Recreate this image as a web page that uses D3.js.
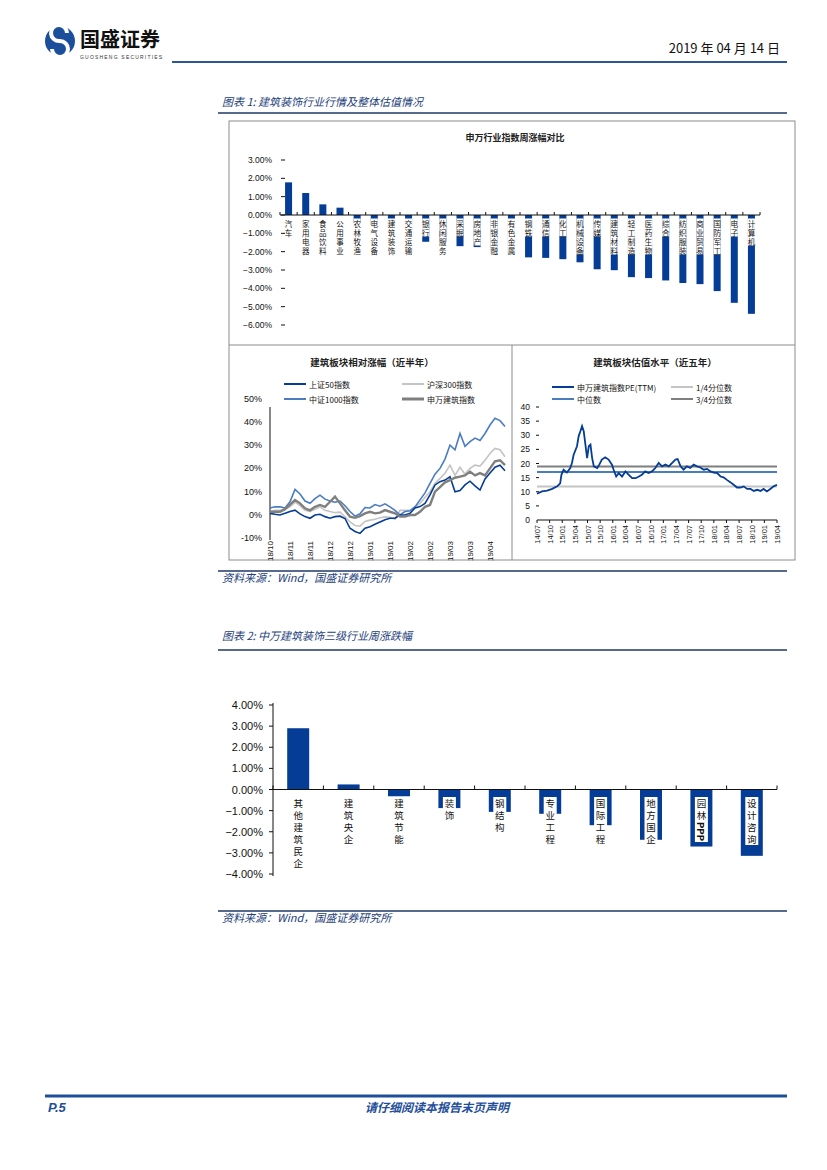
<!DOCTYPE html>
<html>
<head>
<meta charset="utf-8">
<script src="https://cdn.jsdelivr.net/npm/d3@7"></script>
<style>
  body { margin: 0; background: #fff; }
  svg { display: block; }
  text { font-family: "Noto Sans CJK SC", "Noto Sans", sans-serif; }
  .num { font-family: "Liberation Sans", Arial, sans-serif; }
</style>
</head>
<body>
<div id="root"></div>
<script>
// ---- chart 1 top: Shenwan level-1 weekly change (%)
const industries = ['汽车','家用电器','食品饮料','公用事业','农林牧渔','电气设备','建筑装饰','交通运输',
  '银行','休闲服务','采掘','房地产','非银金融','有色金属','钢铁','通信','化工','机械设备','传媒',
  '建筑材料','轻工制造','医药生物','综合','纺织服装','商业贸易','国防军工','电子','计算机']
const weeklyChange = [1.78, 1.20, 0.58, 0.40, -0.45, -0.55, -0.65, -0.80,
  -1.46, -1.45, -1.70, -1.75, -1.95, -2.15, -2.31, -2.34, -2.41, -2.58, -2.96,
  -3.01, -3.39, -3.44, -3.57, -3.71, -3.77, -4.15, -4.79, -5.39]
const weeklyTicks = [3, 2, 1, 0, -1, -2, -3, -4, -5, -6]

// ---- chart 1 bottom left: relative change over half a year (%)
const relTickIdx = [0, 4, 8, 12, 16, 20, 24, 28, 32, 36, 40, 44]
const relTickLabels = ['18/10','18/11','18/11','18/12','18/12','19/01','19/01','19/02','19/02','19/03','19/03','19/04']
const sz50 = [0.7,0.3,0.0,0.7,1.5,2.1,0.5,-0.7,-1.4,0.0,0.3,-0.7,-1.4,-0.7,-0.5,-1.5,-5.7,-7.1,-7.9,-5.7,
  -5.0,-4.0,-3.0,-2.0,-1.4,-1.4,0.0,0.0,0.7,3.0,3.6,5.0,8.6,12.9,14.3,15.0,16.4,10.0,10.5,12.9,
  14.5,12.5,10.7,15.5,18.0,20.5,21.4,19.0]
const hs300 = [1.4,2.0,2.0,2.5,3.5,5.5,4.0,2.0,1.5,2.5,3.5,2.0,1.5,1.0,1.2,-0.8,-3.0,-4.5,-4.8,-2.8,
  -2.2,-1.8,-1.2,-0.8,-1.0,-1.8,2.0,2.0,2.0,3.5,5.0,7.5,10.0,13.6,15.7,17.9,21.4,17.0,20.5,17.5,
  20.0,21.4,21.0,23.5,26.4,28.6,28.0,25.0]
const zz1000 = [3.0,3.5,3.5,3.0,5.7,11.0,9.0,6.0,5.0,7.0,8.5,6.8,6.0,5.5,6.0,4.0,1.5,-0.5,0.5,3.2,
  3.0,4.5,3.8,4.8,3.5,2.0,0.0,1.5,1.8,3.5,6.5,9.5,13.6,17.5,20.0,24.0,30.0,28.0,35.0,29.5,
  31.5,33.0,32.0,35.0,38.6,41.5,40.5,38.0]
const swBuild = [1.4,1.4,1.4,2.5,4.5,6.4,5.0,2.9,2.0,3.5,4.3,3.5,5.7,7.9,5.0,2.0,-0.7,-1.2,-0.5,0.7,
  1.4,0.7,1.0,2.1,1.4,0.7,-0.7,-0.7,0.0,0.0,1.4,3.5,4.3,10.0,12.0,14.0,15.0,16.0,16.5,17.0,
  18.6,17.0,18.0,17.0,20.0,23.0,23.5,21.4]
const relTicks = [50, 40, 30, 20, 10, 0, -10]

// ---- chart 1 bottom right: PE(TTM) over five years, months since 2014/07
const peMonth = [0,1.2,2.4,3.6,4.8,5.5,5.8,6.3,7.1,7.9,8.3,8.7,9.5,9.9,10.3,10.7,11.1,11.5,11.9,12.3,
  12.7,13.1,13.5,14.3,14.8,15.4,16.2,17.0,17.8,18.2,18.8,19.4,20.2,21.0,21.8,22.6,23.4,24.2,24.9,25.7,
  26.5,27.3,28.1,28.9,29.7,30.5,31.3,32.1,32.9,33.4,34.1,34.8,35.6,36.4,37.2,38.0,38.8,39.6,40.4,41.2,
  42.0,42.8,43.6,44.3,45.1,45.9,46.7,47.5,48.3,49.1,49.9,50.7,51.5,52.3,53.1,53.8,54.6,55.4,56.2,57.0]
const peValue = [9.3,10.1,10.4,11.0,11.9,13.0,16.0,17.8,16.8,18.4,20.2,23.1,26.1,29.7,31.4,33.2,31.4,26.7,21.9,26.1,
  26.7,21.9,19.0,18.4,19.6,21.4,22.2,21.4,19.6,17.8,15.4,16.6,15.4,17.2,16.0,14.8,14.8,15.4,16.0,17.2,
  16.6,17.2,18.4,20.2,19.0,19.6,19.0,20.2,21.4,21.6,19.0,17.8,19.0,18.4,19.6,19.0,18.6,17.8,18.1,17.2,
  16.8,16.6,15.4,15.1,14.2,13.4,12.5,11.5,11.5,11.9,11.0,11.0,10.3,10.7,10.3,11.0,10.1,11.0,11.9,12.5]
const peQ1 = 11.9, peMedian = 17.0, peQ3 = 18.9
const peTickLabels = ['14/07','14/10','15/01','15/04','15/07','15/10','16/01','16/04','16/07','16/10',
  '17/01','17/04','17/07','17/10','18/01','18/04','18/07','18/10','19/01','19/04']
const peTicks = [40, 35, 30, 25, 20, 15, 10, 5, 0]

// ---- chart 2: Shenwan building sub-industries weekly change (%)
const subIndustries = ['其他建筑民企','建筑央企','建筑节能','装饰','钢结构','专业工程','国际工程','地方国企','园林PPP','设计咨询']
const subChange = [2.90, 0.24, -0.32, -0.88, -1.06, -1.15, -1.69, -2.38, -2.70, -3.14]
const subTicks = [4, 3, 2, 1, 0, -1, -2, -3, -4]

const BLUE = '#053d96', MID = '#4a7cc2', LIGHT = '#c4c4c4', GREY = '#7f7f7f', NAVY = '#23407a'

const svg = d3.select('#root').append('svg').attr('width', 827).attr('height', 1170)

// vertical stacked label: one CJK character per line, latin runs turned sideways
function vlabel(g, txt, x, y0, step, size, bgW) {
  const tokens = txt.match(/[A-Za-z0-9]+|./g)
  const bg = g.append('rect').attr('fill', '#fff')
  let y = y0
  tokens.forEach(tk => {
    if (tk.length > 1) {
      const t = g.append('text').attr('font-size', size).attr('font-weight', 'bold')
        .attr('text-anchor', 'middle').attr('dominant-baseline', 'central').attr('fill', '#111').text(tk)
      const len = t.node().getComputedTextLength()
      const cy = y - step / 2 + len / 2 + 1
      t.attr('transform', `translate(${x},${cy}) rotate(90)`)
      y += len + 2
    } else {
      g.append('text').attr('x', x).attr('y', y).attr('text-anchor', 'middle')
        .attr('dominant-baseline', 'central').attr('font-size', size).attr('fill', '#111').text(tk)
      y += step
    }
  })
  if (bgW) bg.attr('x', x - bgW / 2).attr('y', y0 - step / 2).attr('width', bgW).attr('height', y - y0)
}

// ---------- page header
const logo = svg.append('g')
logo.append('circle').attr('cx', 60).attr('cy', 41).attr('r', 15).attr('fill', '#1b4f9c')
logo.append('path').attr('d', 'M67,33 A8,8 0 1 0 60,41 A8,8 0 1 1 52,49')
  .attr('fill', 'none').attr('stroke', '#fff').attr('stroke-width', 4)
svg.append('text').attr('x', 80).attr('y', 47).attr('font-size', 20).attr('font-weight', 'bold')
  .attr('fill', '#111').text('国盛证券')
svg.append('text').attr('x', 80).attr('y', 59).attr('font-size', 5).attr('letter-spacing', 1.2)
  .attr('fill', '#333').attr('class', 'num').text('GUOSHENG SECURITIES')
svg.append('text').attr('x', 780).attr('y', 53).attr('text-anchor', 'end').attr('font-size', 13)
  .attr('fill', '#111').text('2019 年 04 月 14 日')
svg.append('line').attr('x1', 172).attr('x2', 787).attr('y1', 62).attr('y2', 62)
  .attr('stroke', '#2f5597').attr('stroke-width', 2)

function caption(txt, y, lineY) {
  svg.append('text').attr('x', 222).attr('y', y).attr('font-size', 11).attr('font-style', 'italic')
    .attr('fill', NAVY).text(txt)
  svg.append('line').attr('x1', 218).attr('x2', 787).attr('y1', lineY).attr('y2', lineY)
    .attr('stroke', '#1f3864').attr('stroke-width', 1.5)
}
function source(lineY) {
  svg.append('line').attr('x1', 218).attr('x2', 787).attr('y1', lineY).attr('y2', lineY)
    .attr('stroke', '#1f3864').attr('stroke-width', 1.5)
  svg.append('text').attr('x', 222).attr('y', lineY + 11).attr('font-size', 11).attr('font-style', 'italic')
    .attr('fill', NAVY).text('资料来源：Wind，国盛证券研究所')
}

caption('图表 1: 建筑装饰行业行情及整体估值情况', 106, 113)

// chart 1 frames
svg.append('rect').attr('x', 229).attr('y', 121).attr('width', 566).attr('height', 439)
  .attr('fill', 'none').attr('stroke', '#8c8c8c')
svg.append('line').attr('x1', 229).attr('x2', 795).attr('y1', 345).attr('y2', 345).attr('stroke', '#8c8c8c')
svg.append('line').attr('x1', 512).attr('x2', 512).attr('y1', 345).attr('y2', 560).attr('stroke', '#8c8c8c')

// ---------- chart 1 top: bar chart
{
  const g = svg.append('g')
  const x = d3.scaleBand().domain(industries).range([280, 760])
  const y = d3.scaleLinear().domain([-6, 3]).range([325, 160])
  g.append('text').attr('x', 515).attr('y', 141).attr('text-anchor', 'middle')
    .attr('font-size', 9).attr('font-weight', 'bold').attr('fill', '#222').text('申万行业指数周涨幅对比')
  weeklyTicks.forEach(t => {
    g.append('text').attr('class', 'num').attr('x', 272).attr('y', y(t)).attr('dominant-baseline', 'central')
      .attr('text-anchor', 'end').attr('font-size', 8.5).attr('fill', '#111').text(d3.format('.2f')(t) + '%')
    g.append('line').attr('x1', 281).attr('x2', 285).attr('y1', y(t)).attr('y2', y(t)).attr('stroke', '#111')
  })
  g.selectAll('rect.bar').data(industries).join('rect').attr('class', 'bar')
    .attr('x', d => x(d) + x.bandwidth() / 2 - 3.5).attr('width', 7)
    .attr('y', (d, i) => y(Math.max(0, weeklyChange[i])))
    .attr('height', (d, i) => Math.abs(y(weeklyChange[i]) - y(0)))
    .attr('fill', BLUE)
  g.append('line').attr('x1', 280).attr('x2', 760).attr('y1', y(0)).attr('y2', y(0)).attr('stroke', '#111')
  d3.range(industries.length + 1).forEach(k => {
    const xx = 280 + k * x.step()
    g.append('line').attr('x1', xx).attr('x2', xx).attr('y1', y(0)).attr('y2', y(0) - 3).attr('stroke', '#111')
  })
  industries.forEach(d => vlabel(g, d, x(d) + x.bandwidth() / 2, y(0) + 8, 9, 7.5, 7))
}

// line legend helper
function legendItem(g, x, y, color, w, label) {
  g.append('line').attr('x1', x).attr('x2', x + 22).attr('y1', y).attr('y2', y)
    .attr('stroke', color).attr('stroke-width', w)
  g.append('text').attr('x', x + 25).attr('y', y).attr('dominant-baseline', 'central')
    .attr('font-size', 8).attr('fill', '#111').text(label)
}

// ---------- chart 1 bottom left: relative change
{
  const g = svg.append('g')
  const x = d3.scaleLinear().domain([0, sz50.length - 1]).range([270, 505])
  const y = d3.scaleLinear().domain([-10, 50]).range([538.3, 398.5])
  g.append('text').attr('x', 372).attr('y', 366).attr('text-anchor', 'middle')
    .attr('font-size', 9.5).attr('font-weight', 'bold').attr('fill', '#222').text('建筑板块相对涨幅（近半年）')
  legendItem(g, 284, 384, BLUE, 2, '上证50指数')
  legendItem(g, 402, 384, LIGHT, 2, '沪深300指数')
  legendItem(g, 284, 399, MID, 2, '中证1000指数')
  legendItem(g, 402, 399, GREY, 3, '申万建筑指数')
  relTicks.forEach(t => {
    g.append('text').attr('class', 'num').attr('x', 262).attr('y', y(t)).attr('dominant-baseline', 'central')
      .attr('text-anchor', 'end').attr('font-size', 9).attr('fill', '#111').text(t + '%')
  })
  g.append('line').attr('x1', 270).attr('x2', 270).attr('y1', 407).attr('y2', 540).attr('stroke', '#111')
  const line = arr => d3.line().x((d, i) => x(i)).y(d => y(d))(arr)
  ;[[hs300, LIGHT, 1.6], [zz1000, MID, 1.6], [sz50, BLUE, 1.6], [swBuild, GREY, 2.4]].forEach(([arr, c, w]) => {
    g.append('path').attr('d', line(arr)).attr('fill', 'none').attr('stroke', c).attr('stroke-width', w)
  })
  relTickIdx.forEach((t, i) => {
    g.append('text').attr('class', 'num').attr('transform', `translate(${x(t) + 3},541) rotate(-90)`)
      .attr('text-anchor', 'end').attr('font-size', 8).attr('fill', '#111').text(relTickLabels[i])
  })
}

// ---------- chart 1 bottom right: PE valuation
{
  const g = svg.append('g')
  const x = d3.scaleLinear().domain([0, 57]).range([537, 777])
  const y = d3.scaleLinear().domain([0, 40]).range([520, 407])
  g.append('text').attr('x', 655).attr('y', 366).attr('text-anchor', 'middle')
    .attr('font-size', 9.5).attr('font-weight', 'bold').attr('fill', '#222').text('建筑板块估值水平（近五年）')
  legendItem(g, 552, 387, BLUE, 2, '申万建筑指数PE(TTM)')
  legendItem(g, 671, 387, LIGHT, 2, '1/4分位数')
  legendItem(g, 552, 399, MID, 2, '中位数')
  legendItem(g, 671, 399, GREY, 2, '3/4分位数')
  peTicks.forEach(t => {
    g.append('text').attr('class', 'num').attr('x', 530).attr('y', y(t)).attr('dominant-baseline', 'central')
      .attr('text-anchor', 'end').attr('font-size', 8.5).attr('fill', '#111').text(t)
    if (t > 0) g.append('line').attr('x1', 536).attr('x2', 539).attr('y1', y(t)).attr('y2', y(t)).attr('stroke', '#111')
  })
  ;[[peQ1, LIGHT], [peMedian, MID], [peQ3, GREY]].forEach(([v, c]) => {
    g.append('line').attr('x1', x(0)).attr('x2', x(57)).attr('y1', y(v)).attr('y2', y(v))
      .attr('stroke', c).attr('stroke-width', 2)
  })
  g.append('path').attr('d', d3.line().x((d, i) => x(peMonth[i])).y(d => y(d))(peValue))
    .attr('fill', 'none').attr('stroke', BLUE).attr('stroke-width', 1.8)
  g.append('line').attr('x1', x(0)).attr('x2', x(57)).attr('y1', y(0)).attr('y2', y(0)).attr('stroke', '#111')
  peTickLabels.forEach((l, i) => {
    const xx = x(i * 3)
    g.append('line').attr('x1', xx).attr('x2', xx).attr('y1', y(0)).attr('y2', y(0) + 3).attr('stroke', '#111')
    g.append('text').attr('class', 'num').attr('transform', `translate(${xx + 3},525) rotate(-90)`)
      .attr('text-anchor', 'end').attr('font-size', 7.5).attr('fill', '#111').text(l)
  })
}

source(571)

// ---------- chart 2
caption('图表 2: 中万建筑装饰三级行业周涨跌幅', 640, 650)
{
  const g = svg.append('g')
  const x = d3.scaleBand().domain(subIndustries).range([273, 777])
  const y = d3.scaleLinear().domain([-4, 4]).range([874, 705])
  subTicks.forEach(t => {
    g.append('text').attr('class', 'num').attr('x', 263).attr('y', y(t)).attr('dominant-baseline', 'central')
      .attr('text-anchor', 'end').attr('font-size', 11).attr('fill', '#111').text(d3.format('.2f')(t) + '%')
    g.append('line').attr('x1', 269).attr('x2', 273).attr('y1', y(t)).attr('y2', y(t)).attr('stroke', '#111')
  })
  g.append('line').attr('x1', 273).attr('x2', 273).attr('y1', 703).attr('y2', 876).attr('stroke', '#111')
  g.selectAll('rect.bar').data(subIndustries).join('rect').attr('class', 'bar')
    .attr('x', d => x(d) + x.bandwidth() / 2 - 11).attr('width', 22)
    .attr('y', (d, i) => y(Math.max(0, subChange[i])))
    .attr('height', (d, i) => Math.abs(y(subChange[i]) - y(0)))
    .attr('fill', BLUE)
  g.append('line').attr('x1', 273).attr('x2', 777).attr('y1', y(0)).attr('y2', y(0)).attr('stroke', '#111')
  d3.range(subIndustries.length + 1).forEach(k => {
    const xx = 273 + k * x.step()
    g.append('line').attr('x1', xx).attr('x2', xx).attr('y1', y(0)).attr('y2', y(0) - 4).attr('stroke', '#111')
  })
  subIndustries.forEach(d => vlabel(g, d, x(d) + x.bandwidth() / 2, 803, 12, 9.5, 13))
}
source(911)

// ---------- footer
svg.append('line').attr('x1', 45).attr('x2', 787).attr('y1', 1096).attr('y2', 1096)
  .attr('stroke', '#1f4e9a').attr('stroke-width', 3)
svg.append('text').attr('class', 'num').attr('x', 48).attr('y', 1112).attr('font-size', 13)
  .attr('font-weight', 'bold').attr('font-style', 'italic').attr('fill', '#1f4e9a').text('P.5')
svg.append('text').attr('x', 437).attr('y', 1112).attr('text-anchor', 'middle').attr('font-size', 12)
  .attr('font-weight', 'bold').attr('font-style', 'italic').attr('fill', '#1f4e9a').text('请仔细阅读本报告末页声明')
</script>
</body>
</html>
